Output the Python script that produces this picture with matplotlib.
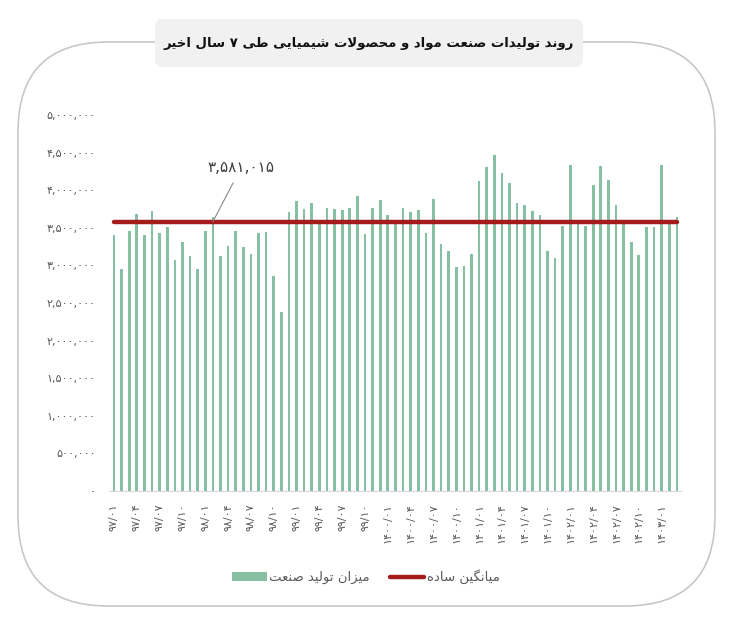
import matplotlib
matplotlib.use('Agg')
import matplotlib.pyplot as plt
from matplotlib.patches import FancyBboxPatch
from matplotlib.transforms import IdentityTransform
from matplotlib.ticker import FuncFormatter

# monthly production (97/01 .. 1403/03)
production = [
    3410000, 2955000, 3455000, 3680000, 3405000, 3720000, 3435000, 3510000,
    3075000, 3310000, 3120000, 2950000, 3455000, 3650000, 3130000, 3255000,
    3455000, 3240000, 3150000, 3435000, 3450000, 2855000, 2380000, 3705000,
    3855000, 3755000, 3830000, 3560000, 3760000, 3750000, 3735000, 3760000,
    3925000, 3420000, 3760000, 3870000, 3665000, 3560000, 3770000, 3710000,
    3735000, 3430000, 3885000, 3280000, 3195000, 2985000, 2995000, 3155000,
    4120000, 4305000, 4470000, 4225000, 4090000, 3835000, 3800000, 3720000,
    3670000, 3195000, 3095000, 3530000, 4330000, 3550000, 3525000, 4075000,
    4320000, 4140000, 3800000, 3550000, 3305000, 3145000, 3515000, 3515000,
    4330000, 3550000, 3640000,
]
average = 3581015
avg_label = '۳,۵۸۱,۰۱۵'
tick_pos = list(range(0, 73, 3))
tick_labels = [
    '۹۷/۰۱', '۹۷/۰۴', '۹۷/۰۷', '۹۷/۱۰', '۹۸/۰۱', '۹۸/۰۴', '۹۸/۰۷', '۹۸/۱۰',
    '۹۹/۰۱', '۹۹/۰۴', '۹۹/۰۷', '۹۹/۱۰', '۱۴۰۰/۰۱', '۱۴۰۰/۰۴', '۱۴۰۰/۰۷',
    '۱۴۰۰/۱۰', '۱۴۰۱/۰۱', '۱۴۰۱/۰۴', '۱۴۰۱/۰۷', '۱۴۰۱/۱۰', '۱۴۰۲/۰۱',
    '۱۴۰۲/۰۴', '۱۴۰۲/۰۷', '۱۴۰۲/۱۰', '۱۴۰۳/۰۱',
]
title = 'روند تولیدات صنعت مواد و محصولات شیمیایی طی ۷ سال اخیر'
bar_name = 'میزان تولید صنعت'
line_name = 'میانگین ساده'

# matplotlib has no arabic shaping, so do it by hand
FORMS = {  # isolated, final, initial, medial
    'ا': ('\uFE8D', '\uFE8E', None, None),
    'ب': ('\uFE8F', '\uFE90', '\uFE91', '\uFE92'),
    'ت': ('\uFE95', '\uFE96', '\uFE97', '\uFE98'),
    'ح': ('\uFEA1', '\uFEA2', '\uFEA3', '\uFEA4'),
    'خ': ('\uFEA5', '\uFEA6', '\uFEA7', '\uFEA8'),
    'د': ('\uFEA9', '\uFEAA', None, None),
    'ر': ('\uFEAD', '\uFEAE', None, None),
    'ز': ('\uFEAF', '\uFEB0', None, None),
    'س': ('\uFEB1', '\uFEB2', '\uFEB3', '\uFEB4'),
    'ش': ('\uFEB5', '\uFEB6', '\uFEB7', '\uFEB8'),
    'ص': ('\uFEB9', '\uFEBA', '\uFEBB', '\uFEBC'),
    'ط': ('\uFEC1', '\uFEC2', '\uFEC3', '\uFEC4'),
    'ع': ('\uFEC9', '\uFECA', '\uFECB', '\uFECC'),
    'ل': ('\uFEDD', '\uFEDE', '\uFEDF', '\uFEE0'),
    'م': ('\uFEE1', '\uFEE2', '\uFEE3', '\uFEE4'),
    'ن': ('\uFEE5', '\uFEE6', '\uFEE7', '\uFEE8'),
    'ه': ('\uFEE9', '\uFEEA', '\uFEEB', '\uFEEC'),
    'و': ('\uFEED', '\uFEEE', None, None),
    'گ': ('\uFB92', '\uFB93', '\uFB94', '\uFB95'),
    'ی': ('\uFBFC', '\uFBFD', '\uFBFE', '\uFBFF'),
}


def shape(text):
    out = []
    i = 0
    n = len(text)
    while i < n:
        c = text[i]
        if c not in FORMS:
            out.append(c)
            i += 1
            continue
        prev = text[i - 1] if i > 0 else ''
        joins_prev = prev in FORMS and FORMS[prev][2] is not None
        if c == 'ل' and i + 1 < n and text[i + 1] == 'ا':
            out.append('\uFEFC' if joins_prev else '\uFEFB')
            i += 2
            continue
        nxt = text[i + 1] if i + 1 < n else ''
        joins_next = FORMS[c][2] is not None and nxt in FORMS
        iso, fin, ini, med = FORMS[c]
        if joins_prev and joins_next:
            out.append(med)
        elif joins_prev:
            out.append(fin)
        elif joins_next:
            out.append(ini)
        else:
            out.append(iso)
        i += 1
    return ''.join(reversed(out))


FA = str.maketrans('0123456789', '۰۱۲۳۴۵۶۷۸۹')

plt.rcParams['font.family'] = ['DejaVu Sans']
green = '#86bfa1'
red = '#a51b1b'
grey = '#595959'

fig = plt.figure(figsize=(7.32, 6.17), dpi=100)
ax = fig.add_axes([0.1495, 0.2042, 0.7814, 0.6094])

x = list(range(len(production)))
bars = ax.bar(x, production, width=0.35, color=green, label=shape(bar_name), zorder=2)
line, = ax.plot(x, [average] * len(x), color=red, lw=3.2, label=shape(line_name),
                zorder=3, solid_capstyle='round')
ax.annotate(avg_label, xy=(13, average), xytext=(16.7, 4.3e6),
            ha='center', va='center', fontsize=11, color='#404040',
            arrowprops=dict(arrowstyle='-', color='#888888', lw=0.8,
                            shrinkA=4, shrinkB=0))

ax.set_xlim(-0.6, 74.6)
ax.set_ylim(0, 5000000)
ax.set_yticks(range(0, 5000001, 500000))
ax.yaxis.set_major_formatter(FuncFormatter(lambda v, p: f'{v:,.0f}'.translate(FA)))
ax.set_xticks(tick_pos)
ax.set_xticklabels(tick_labels, rotation=90)
ax.tick_params(axis='y', length=0, pad=10, labelsize=8, labelcolor=grey)
ax.tick_params(axis='x', length=0, pad=9, labelsize=8, labelcolor=grey)
for s in ['top', 'right', 'left']:
    ax.spines[s].set_visible(False)
ax.spines['bottom'].set_color('#d9d9d9')

fig.legend(handles=[bars, line], loc='center',
           bbox_to_anchor=(366 / 732, 1 - 577 / 617),
           ncol=2, frameon=False, fontsize=9.5, labelcolor=grey,
           handlelength=2.6, columnspacing=1.5, handletextpad=0.2)

# outer rounded frame and title box (pixel coordinates)
frame = FancyBboxPatch((18, 11), 697, 564, boxstyle='round,pad=0,rounding_size=90',
                       transform=IdentityTransform(), fill=False,
                       edgecolor='#c4c4c4', lw=1.1, zorder=0)
fig.patches.append(frame)
tbox = FancyBboxPatch((155, 550), 428, 48, boxstyle='round,pad=0,rounding_size=8',
                      transform=IdentityTransform(), facecolor='#f1f1f1',
                      edgecolor='none', zorder=1)
fig.patches.append(tbox)
fig.text(369 / 732, 1 - 43 / 617, shape(title), ha='center', va='center',
         fontsize=9.5, fontweight='bold', color='#111111')

fig.savefig('out.png', dpi=100)
